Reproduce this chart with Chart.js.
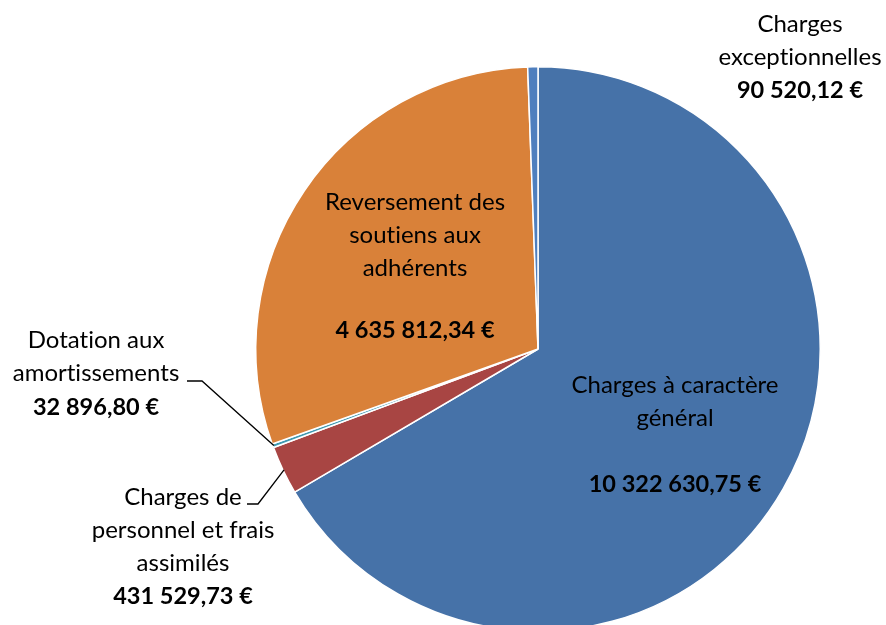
<!DOCTYPE html>
<html>
<head>
<meta charset="utf-8">
<script src="https://cdn.jsdelivr.net/npm/chart.js@4.4.1/dist/chart.umd.min.js"></script>
<style>
html,body{margin:0;padding:0;background:#fff;overflow:hidden;}
#wrap{position:relative;width:886px;height:700px;}
</style>
</head>
<body>
<div id="wrap"><canvas id="c" width="886" height="700"></canvas></div>
<script>
const categories = [
  "Charges à caractère général",
  "Charges de personnel et frais assimilés",
  "Dotation aux amortissements",
  "Reversement des soutiens aux adhérents",
  "Charges exceptionnelles"
];
const values = [10322630.75, 431529.73, 32896.80, 4635812.34, 90520.12];
const valueLabels = ["10 322 630,75 €", "431 529,73 €", "32 896,80 €", "4 635 812,34 €", "90 520,12 €"];
const labelLines = [
  ["Charges à caractère", "général"],
  ["Charges de", "personnel et frais", "assimilés"],
  ["Dotation aux", "amortissements"],
  ["Reversement des", "soutiens aux", "adhérents"],
  ["Charges", "exceptionnelles"]
];
const colors = ["#4672A8", "#A84543", "#3F99B1", "#D98139", "#4F7FBE"];

const FONT = "Lato, 'Open Sans', sans-serif";
const FS = 24;
const FSB = 23.5;
const LH = 33;

const labelPlugin = {
  id: 'sliceLabels',
  afterDatasetsDraw(chart) {
    const ctx = chart.ctx;
    const meta = chart.getDatasetMeta(0);
    const cx = meta.data[0].x, cy = meta.data[0].y, R = meta.data[0].outerRadius;
    const place = [
      {x: 675, y: 385, gap: 66},
      {x: 183, y: 497, gap: 33},
      {x: 96,  y: 340, gap: 34},
      {x: 415, y: 202, gap: 62},
      {x: 800, y: 24,  gap: 33}
    ];
    ctx.save();
    ctx.textAlign = 'center';
    ctx.textBaseline = 'middle';
    ctx.fillStyle = '#000';
    try { ctx.letterSpacing = '0.01px'; } catch (e) {}
    place.forEach((p, i) => {
      ctx.font = FS + "px " + FONT;
      const lines = labelLines[i];
      lines.forEach((t, k) => ctx.fillText(t, p.x, p.y + k * LH));
      ctx.font = "bold " + FSB + "px " + FONT;
      ctx.fillText(valueLabels[i], p.x, p.y + (lines.length - 1) * LH + p.gap);
    });
    ctx.strokeStyle = '#000';
    ctx.lineWidth = 1.3;
    const leader = (i, hx0, hx1, hy) => {
      const a = meta.data[i];
      const mid = (a.startAngle + a.endAngle) / 2;
      const ex = cx + Math.cos(mid) * (R - 1);
      const ey = cy + Math.sin(mid) * (R - 1);
      ctx.beginPath();
      ctx.moveTo(hx0, hy);
      ctx.lineTo(hx1, hy);
      ctx.lineTo(ex, ey);
      ctx.stroke();
    };
    leader(2, 187, 202, 381);
    leader(1, 247, 258, 504);
    ctx.restore();
  }
};

new Chart(document.getElementById('c'), {
  type: 'pie',
  data: {
    labels: categories,
    datasets: [{
      data: values,
      backgroundColor: colors,
      borderColor: '#ffffff',
      borderWidth: 1.5
    }]
  },
  options: {
    responsive: false,
    animation: false,
    layout: { padding: { top: 66, bottom: 68, left: 255, right: 65 } },
    plugins: { legend: { display: false }, tooltip: { enabled: false } }
  },
  plugins: [labelPlugin]
});
</script>
</body>
</html>
